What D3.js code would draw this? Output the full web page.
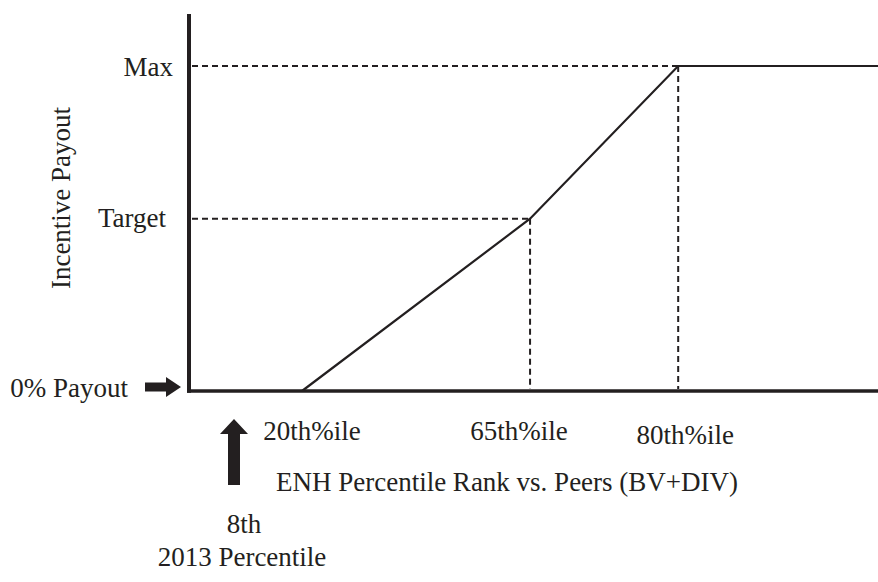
<!DOCTYPE html>
<html>
<head>
<meta charset="utf-8">
<script src="https://cdn.jsdelivr.net/npm/d3@7"></script>
<style>
  html, body { margin: 0; padding: 0; background: #fff; }
  svg { display: block; }
  text { font-family: "Liberation Serif", "Times New Roman", serif; fill: #231f20; }
</style>
</head>
<body>
<div id="chart"></div>
<script>
// ---- data (schematic chart units) ----
const payoutLevels = ["0% Payout", "Target", "Max"];
const payoutValues = [0, 53, 100];          // payout scale units (Max = 100)
const rankLabels = ["20th%ile", "65th%ile", "80th%ile"];
const rankValues = [16.4, 49.5, 71.0];      // position along the rank axis (0-100 units)
const curveX = [16.4, 49.5, 71.0, 100];
const curveY = [0, 53, 100, 100];
const xAxisTitle = "ENH Percentile Rank vs. Peers (BV+DIV)";
const yAxisTitle = "Incentive Payout";
const markerLines = ["8th", "2013 Percentile"];

// ---- layout ----
const W = 878, H = 582;
const ink = "#231f20";
const x = d3.scaleLinear().domain([0, 100]).range([189, 878]);
const y = d3.scaleLinear().domain([0, 116]).range([391, 14]);

const svg = d3.select("#chart").append("svg").attr("width", W).attr("height", H);

// dashed guides
const guides = [
  { x: rankValues[1], y: payoutValues[1] },
  { x: rankValues[2], y: payoutValues[2] }
];
guides.forEach(g => {
  svg.append("line")
    .attr("x1", x(0) + 3).attr("x2", x(g.x))
    .attr("y1", y(g.y)).attr("y2", y(g.y))
    .attr("stroke", ink).attr("stroke-width", 1.8).attr("stroke-dasharray", "6,4");
  svg.append("line")
    .attr("x1", x(g.x)).attr("x2", x(g.x))
    .attr("y1", y(g.y)).attr("y2", y(0) - 2)
    .attr("stroke", ink).attr("stroke-width", 2).attr("stroke-dasharray", "6,4");
});

// payout curve
const pts = curveX.map((v, i) => [v, curveY[i]]);
svg.append("path")
  .datum(pts)
  .attr("d", d3.line().x(d => x(d[0])).y(d => y(d[1])))
  .attr("fill", "none").attr("stroke", ink).attr("stroke-width", 2.2);

// axes
svg.append("line")
  .attr("x1", x(0)).attr("x2", x(0))
  .attr("y1", y(116)).attr("y2", y(0) + 1.8)
  .attr("stroke", ink).attr("stroke-width", 4);
svg.append("line")
  .attr("x1", x(0) - 2).attr("x2", x(100))
  .attr("y1", y(0)).attr("y2", y(0))
  .attr("stroke", ink).attr("stroke-width", 3.6);

const fs = 27;
// y labels
const yLabelAnchor = [128, 166, 173];
const yLabelDy = [6, 8, 10];
payoutLevels.forEach((lab, i) => {
  svg.append("text")
    .attr("x", yLabelAnchor[i]).attr("y", y(payoutValues[i]) + yLabelDy[i])
    .attr("text-anchor", "end").attr("font-size", fs)
    .text(lab);
});

// right arrow at 0% payout
const ay = y(0) - 4;
svg.append("path")
  .attr("d", `M145,${ay - 4.5} L166,${ay - 4.5} L166,${ay - 10} L181,${ay} L166,${ay + 10} L166,${ay + 4.5} L145,${ay + 4.5} Z`)
  .attr("fill", ink);

// y title
svg.append("text")
  .attr("transform", "translate(70,198) rotate(-90)")
  .attr("text-anchor", "middle").attr("font-size", fs)
  .text(yAxisTitle);

// x rank labels
const rankDx = [10, -11, 7];
const rankBase = [440, 440, 444];
rankLabels.forEach((lab, i) => {
  svg.append("text")
    .attr("x", x(rankValues[i]) + rankDx[i]).attr("y", rankBase[i])
    .attr("text-anchor", "middle").attr("font-size", fs)
    .text(lab);
});

// x title
svg.append("text")
  .attr("x", 507).attr("y", 491)
  .attr("text-anchor", "middle").attr("font-size", fs)
  .text(xAxisTitle);

// up arrow (2013 position)
const ux = 234;
svg.append("path")
  .attr("d", `M${ux},419 L${ux + 14},434 L${ux + 6},434 L${ux + 6},485 L${ux - 6},485 L${ux - 6},434 L${ux - 14},434 Z`)
  .attr("fill", ink);

svg.append("text").attr("x", 244).attr("y", 533)
  .attr("text-anchor", "middle").attr("font-size", fs).text(markerLines[0]);
svg.append("text").attr("x", 242).attr("y", 566)
  .attr("text-anchor", "middle").attr("font-size", fs).text(markerLines[1]);
</script>
</body>
</html>
